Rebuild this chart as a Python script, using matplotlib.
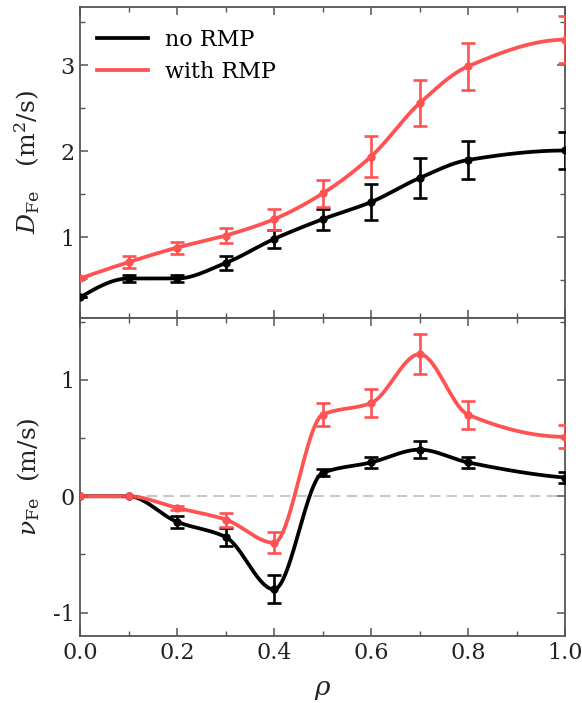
import numpy as np
import matplotlib
matplotlib.use("Agg")
import matplotlib.pyplot as plt
from matplotlib.ticker import MultipleLocator

plt.rcParams['font.family'] = 'DejaVu Serif'
plt.rcParams['mathtext.fontset'] = 'dejavuserif'
plt.rcParams['axes.unicode_minus'] = False

rho = [0.0, 0.1, 0.2, 0.3, 0.4, 0.5, 0.6, 0.7, 0.8, 1.0]

# diffusion coefficient (m^2/s)
D_no = [0.30, 0.52, 0.52, 0.70, 0.98, 1.21, 1.41, 1.69, 1.90, 2.01]
D_no_err = [0.0, 0.04, 0.04, 0.08, 0.10, 0.12, 0.21, 0.23, 0.22, 0.22]
D_rmp = [0.52, 0.71, 0.88, 1.02, 1.21, 1.51, 1.94, 2.56, 2.99, 3.30]
D_rmp_err = [0.0, 0.07, 0.07, 0.09, 0.12, 0.16, 0.24, 0.27, 0.27, 0.27]

# convection velocity (m/s)
v_no = [0.0, 0.0, -0.22, -0.35, -0.80, 0.20, 0.29, 0.40, 0.29, 0.16]
v_no_err = [0.0, 0.0, 0.05, 0.08, 0.12, 0.03, 0.05, 0.07, 0.05, 0.05]
v_rmp = [0.0, 0.0, -0.10, -0.20, -0.40, 0.70, 0.80, 1.22, 0.70, 0.51]
v_rmp_err = [0.0, 0.0, 0.02, 0.06, 0.09, 0.10, 0.12, 0.17, 0.12, 0.10]

BLACK = '#000000'
RED = '#ff5252'
SPINE = '#555555'
TEXT = '#222222'


def pchip(x, y, xn):
    """Monotone cubic (PCHIP) curve through the points, for drawing only"""
    x = np.asarray(x, float)
    y = np.asarray(y, float)
    h = np.diff(x)
    d = np.diff(y) / h
    n = len(x)
    m = np.zeros(n)
    for k in range(1, n - 1):
        if d[k - 1] * d[k] > 0:
            w1 = 2 * h[k] + h[k - 1]
            w2 = h[k] + 2 * h[k - 1]
            m[k] = (w1 + w2) / (w1 / d[k - 1] + w2 / d[k])
    m[0] = ((2 * h[0] + h[1]) * d[0] - h[0] * d[1]) / (h[0] + h[1])
    if np.sign(m[0]) != np.sign(d[0]):
        m[0] = 0
    m[-1] = ((2 * h[-1] + h[-2]) * d[-1] - h[-1] * d[-2]) / (h[-1] + h[-2])
    if np.sign(m[-1]) != np.sign(d[-1]):
        m[-1] = 0
    idx = np.clip(np.searchsorted(x, xn) - 1, 0, n - 2)
    t = (xn - x[idx]) / h[idx]
    h00 = 2 * t**3 - 3 * t**2 + 1
    h10 = t**3 - 2 * t**2 + t
    h01 = -2 * t**3 + 3 * t**2
    h11 = t**3 - t**2
    return h00 * y[idx] + h10 * h[idx] * m[idx] + h01 * y[idx + 1] + h11 * h[idx] * m[idx + 1]


def draw(ax, y, err, color, label=None):
    xs = np.linspace(rho[0], rho[-1], 400)
    ax.plot(xs, pchip(rho, y, xs), color=color, lw=2.7, label=label, zorder=3)
    ax.errorbar(rho, y, yerr=err, fmt='o', color=color, ms=5, elinewidth=1.9,
                capsize=4.8, capthick=1.9, zorder=4)


def style(ax):
    for s in ax.spines.values():
        s.set_color(SPINE)
        s.set_linewidth(1.3)
    ax.tick_params(direction='in', which='both', top=True, right=True, colors=SPINE,
                   labelcolor=TEXT, labelsize=16, pad=4)
    ax.tick_params(which='major', length=6, width=1.1)
    ax.tick_params(which='minor', length=3.5, width=1.0)
    ax.xaxis.set_major_locator(MultipleLocator(0.2))
    ax.xaxis.set_minor_locator(MultipleLocator(0.1))
    ax.set_xlim(0, 1)


fig = plt.figure(figsize=(5.82, 7.03), dpi=100)
gs = fig.add_gridspec(2, 1, height_ratios=[311, 318], hspace=0,
                      left=0.1375, right=0.971, top=0.990, bottom=0.0953)
ax1 = fig.add_subplot(gs[0])
ax2 = fig.add_subplot(gs[1], sharex=ax1)

draw(ax1, D_no, D_no_err, BLACK, 'no RMP')
draw(ax1, D_rmp, D_rmp_err, RED, 'with RMP')
style(ax1)
ax1.set_ylim(0.06, 3.68)
ax1.yaxis.set_major_locator(MultipleLocator(1))
ax1.yaxis.set_minor_locator(MultipleLocator(0.5))
ax1.tick_params(labelbottom=False)
ax1.set_ylabel(r'$D_{\rm Fe}$   $(\rm m^2/s)$', fontsize=18, color=TEXT, labelpad=8)
ax1.legend(loc='upper left', bbox_to_anchor=(0.035, 0.93), frameon=False, fontsize=16,
           handlelength=2.3, handletextpad=0.75, borderpad=0, borderaxespad=0,
           labelspacing=0.45)

ax2.axhline(0, color='#c8c8c8', lw=1.5, ls=(0, (5, 3)), zorder=1)
draw(ax2, v_no, v_no_err, BLACK)
draw(ax2, v_rmp, v_rmp_err, RED)
style(ax2)
ax2.set_ylim(-1.2, 1.53)
ax2.yaxis.set_major_locator(MultipleLocator(1))
ax2.yaxis.set_minor_locator(MultipleLocator(0.5))
ax2.set_ylabel(r'$\nu_{\rm Fe}$  $(\rm m/s)$', fontsize=18, color=TEXT, labelpad=8)
ax2.set_xlabel(r'$\rho$', fontsize=19, color=TEXT, labelpad=10)

fig.align_ylabels([ax1, ax2])
fig.savefig('out.png', dpi=100)
